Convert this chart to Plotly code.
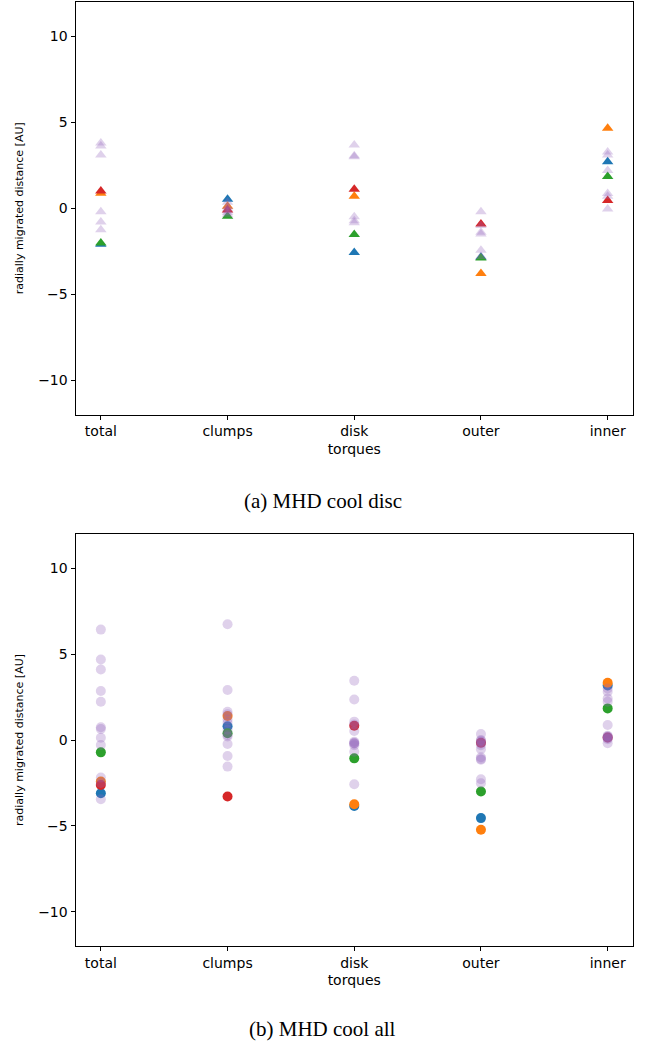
import plotly.graph_objects as go

W, H = 651, 1046

categories = ["total", "clumps", "disk", "outer", "inner"]
y_ticks = [-10, -5, 0, 5, 10]

# Panel (a) MHD cool disc: triangles
blue_a = [-2.1, 0.52, -2.58, -2.85, 2.7]
orange_a = [0.87, 0.12, 0.7, -3.8, 4.65]
green_a = [-2.02, -0.47, -1.52, -2.9, 1.85]
red_a = [1.0, -0.1, 1.1, -0.92, 0.45]
faded_a = [
    [3.8, 0.35, 3.68, -0.2, 3.28],
    [3.62, 0.1, 3.05, -1.0, 3.1],
    [3.1, 0.0, 3.0, -1.4, 2.2],
    [-0.2, -0.15, -0.5, -1.5, 0.86],
    [-0.8, -0.25, -0.72, -2.45, 0.7],
    [-1.25, -0.35, -0.85, -2.8, -0.05],
]

# Panel (b) MHD cool all: circles
blue_b = [-3.1, 0.8, -3.84, -4.55, 3.18]
orange_b = [-2.42, 1.4, -3.74, -5.23, 3.33]
green_b = [-0.72, 0.39, -1.07, -3.0, 1.84]
red_b = [-2.62, -3.29, 0.83, -0.16, 0.15]
faded_b = [
    [6.43, 6.74, 3.45, 0.35, 2.81],
    [4.69, 2.91, 2.36, 0.0, 2.42],
    [4.11, 1.65, 1.07, -0.04, 2.23],
    [2.85, 1.5, 0.52, -0.1, 0.87],
    [2.23, 1.2, -0.1, -0.54, 0.19],
    [0.74, 0.6, -0.16, -1.0, 0.2],
    [0.64, 0.3, -0.2, -1.15, 0.15],
    [0.13, 0.2, -0.3, -2.29, 0.04],
    [-0.29, -0.23, -0.68, -2.52, -0.19],
    [-2.19, -0.93, -2.58, -0.2, 3.0],
    [-3.45, -1.55, 0.9, -0.3, 0.25],
    [-2.5, 1.0, -0.2, -1.1, 0.1],
]

colors = ["#1f77b4", "#ff7f0e", "#2ca02c", "#d62728"]
faded_color = "rgba(148,103,189,0.3)"

xidx = list(range(len(categories)))

fig = go.Figure()

def add_panel(series, faded, symbol, size, xa, ya):
    for vals, c in zip(series, colors):
        fig.add_trace(go.Scatter(x=xidx, y=vals, mode="markers", xaxis=xa, yaxis=ya,
                                 marker=dict(symbol=symbol, size=size, color=c, line=dict(width=0)),
                                 showlegend=False))
    for vals in faded:
        fig.add_trace(go.Scatter(x=xidx, y=vals, mode="markers", xaxis=xa, yaxis=ya,
                                 marker=dict(symbol=symbol, size=size, color=faded_color, line=dict(width=0)),
                                 showlegend=False))

add_panel([blue_a, orange_a, green_a, red_a], faded_a, "triangle-up", 10, "x", "y")
add_panel([blue_b, orange_b, green_b, red_b], faded_b, "circle", 10, "x2", "y2")

left, right = 75.5 / W, 633 / W
dom_a = [1 - 414.5 / H, 1 - 2 / H]
dom_b = [1 - 946 / H, 1 - 534 / H]

tickfont = dict(family="DejaVu Sans", size=14, color="black")
common_x = dict(range=[-0.2, 4.2], tickmode="array", tickvals=xidx, ticktext=categories,
                showline=True, linecolor="black", linewidth=1, mirror=True,
                ticks="outside", ticklen=4, tickcolor="black", showgrid=False, zeroline=False,
                tickfont=tickfont, domain=[left, right],
                title=dict(text="torques", font=dict(family="DejaVu Sans", size=14, color="black"), standoff=5))
common_y = dict(range=[-12, 12], tickmode="array", tickvals=y_ticks,
                showline=True, linecolor="black", linewidth=1, mirror=True,
                ticks="outside", ticklen=4, tickcolor="black", showgrid=False, zeroline=False,
                tickfont=tickfont,
                title=dict(text="radially migrated distance [AU]",
                           font=dict(family="DejaVu Sans", size=11, color="black"), standoff=12))

fig.update_layout(
    width=W, height=H,
    margin=dict(l=0, r=0, t=0, b=0),
    paper_bgcolor="white", plot_bgcolor="white",
    showlegend=False,
    xaxis=dict(common_x, anchor="y"),
    yaxis=dict(common_y, domain=dom_a, anchor="x"),
    xaxis2=dict(common_x, anchor="y2"),
    yaxis2=dict(common_y, domain=dom_b, anchor="x2"),
    annotations=[
        dict(text="(a) MHD cool disc", x=322.5 / W, y=1 - 501 / H, xref="paper", yref="paper",
             showarrow=False, font=dict(family="Liberation Serif", size=21, color="black"),
             xanchor="center", yanchor="middle"),
        dict(text="(b) MHD cool all", x=322.5 / W, y=1 - 1029 / H, xref="paper", yref="paper",
             showarrow=False, font=dict(family="Liberation Serif", size=21, color="black"),
             xanchor="center", yanchor="middle"),
    ],
)

fig.write_html("out.html", config={"displayModeBar": False},
               post_script="document.body.style.margin='0';document.body.style.overflow='hidden';")
